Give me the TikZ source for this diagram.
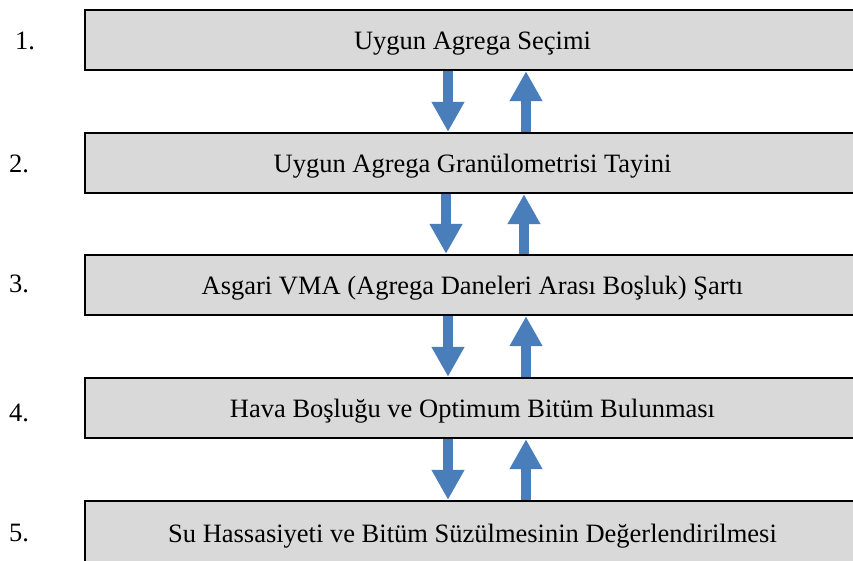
\documentclass[tikz,border=0pt]{standalone}
\usepackage{fontspec}
\setmainfont{Liberation Serif}
\usetikzlibrary{arrows.meta}
\definecolor{stepfill}{RGB}{217,217,217}
\definecolor{flowblue}{RGB}{74,126,187}
\begin{document}
\begin{tikzpicture}[x=1pt,y=-1pt,
  stagebox/.style={draw=black, line width=2.4pt, fill=stepfill,
    minimum width=775pt, minimum height=60pt, inner sep=0pt,
    text height=18pt, text depth=0pt,
    font=\fontsize{26.5}{30}\selectfont},
  stagenum/.style={anchor=base west, inner sep=0pt,
    font=\fontsize{26.5}{30}\selectfont},
  flow/.style={draw=flowblue, line width=10pt,
    -{Triangle[width=31pt,length=30pt]}, shorten <=-0.5pt}]
\useasboundingbox (0,0) rectangle (853,560);
\clip (0,0) rectangle (853,560);
\fill[white] (0,0) rectangle (853,560);

% step numbers
\node[stagenum] (n1) at (15,49) {1.};
\node[stagenum] (n2) at (9,172) {2.};
\node[stagenum] (n3) at (9,292) {3.};
\node[stagenum] (n4) at (9,421) {4.};
\node[stagenum] (n5) at (9,541) {5.};

% design steps
\node[stagebox] (b1) at (472.5,40) {Uygun Agrega Seçimi};
\node[stagebox] (b2) at (472.5,163) {Uygun Agrega Granülometrisi Tayini};
\node[stagebox] (b3) at (472.5,285) {Asgari VMA (Agrega Daneleri Arası Boşluk) Şartı};
\node[stagebox] (b4) at (472.5,408) {Hava Boşluğu ve Optimum Bitüm Bulunması};
\node[stagebox, minimum height=64pt] (b5) at (472.5,533) {Su Hassasiyeti ve Bitüm Süzülmesinin Değerlendirilmesi};

% forward and feedback arrows between consecutive steps
\foreach \a/\b/\dx/\ux in {b1/b2/448/526,b2/b3/446/524,b3/b4/448/526,b4/b5/448/526}{
  \draw[flow] (\a.south -| \dx,0) -- (\b.north -| \dx,0);
  \draw[flow] (\b.north -| \ux,0) -- (\a.south -| \ux,0);
}
\end{tikzpicture}
\end{document}
